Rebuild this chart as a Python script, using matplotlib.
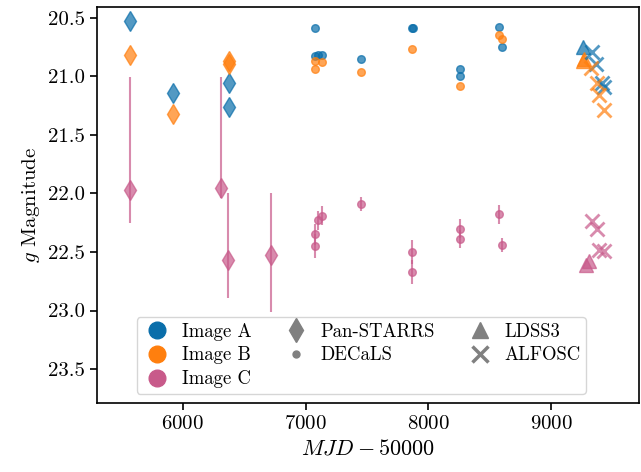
import matplotlib
matplotlib.use("Agg")
import matplotlib.pyplot as plt
from matplotlib.lines import Line2D
import numpy as np

plt.rcParams['font.family'] = 'serif'
plt.rcParams['font.serif'] = ['cmr10', 'DejaVu Serif']
plt.rcParams['mathtext.fontset'] = 'cm'
plt.rcParams['axes.formatter.use_mathtext'] = True

COL_A = '#0a6eaa'
COL_B = '#ff7f0e'
COL_C = '#c85a8a'

# Pan-STARRS
ps_mjd_A = [5569, 5919, 6374, 6374]
ps_mag_A = [20.53, 21.14, 21.06, 21.26]
ps_mjd_B = [5569, 5919, 6374, 6380]
ps_mag_B = [20.82, 21.32, 20.87, 20.90]
ps_mjd_C = [5569, 6309, 6366, 6715]
ps_mag_C = [21.97, 21.95, 22.57, 22.53]
ps_errlo_C = [0.96, 0.94, 0.57, 0.53]   # upward (brighter)
ps_errhi_C = [0.28, 0.09, 0.32, 0.48]   # downward (fainter)

# DECaLS
de_mjd_A = [7073, 7073, 7098, 7130, 7447, 7865, 7875, 8260, 8260, 8577, 8602]
de_mag_A = [20.59, 20.83, 20.82, 20.82, 20.85, 20.59, 20.59, 20.94, 21.00, 20.58, 20.75]
de_mjd_B = [7073, 7130, 7073, 7447, 7870, 8260, 8577, 8602]
de_mag_B = [20.87, 20.88, 20.94, 20.96, 20.77, 21.08, 20.65, 20.68]
de_mjd_C = [7130, 7105, 7080, 7073, 7447, 7870, 7870, 8260, 8260, 8577, 8600]
de_mag_C = [22.19, 22.23, 22.35, 22.45, 22.09, 22.50, 22.67, 22.30, 22.39, 22.18, 22.44]
de_err_C = [0.08, 0.08, 0.09, 0.10, 0.06, 0.10, 0.10, 0.08, 0.08, 0.08, 0.06]

# LDSS3
ld_mjd_A = [9255]
ld_mag_A = [20.75]
ld_mjd_B = [9255, 9265]
ld_mag_B = [20.87, 20.85]
ld_mjd_C = [9285, 9305]
ld_mag_C = [22.61, 22.58]

# ALFOSC
al_mjd_A = [9333, 9366, 9415, 9431]
al_mag_A = [20.79, 20.90, 21.06, 21.09]
al_mjd_B = [9325, 9374, 9390, 9431]
al_mag_B = [20.93, 21.06, 21.16, 21.29]
al_mjd_C = [9333, 9374, 9390, 9431]
al_mag_C = [22.24, 22.30, 22.48, 22.49]

fig = plt.figure(figsize=(6.41, 4.72), dpi=100)
ax = fig.add_axes([0.151, 0.146, 0.846, 0.839])

alpha = 0.7
# Pan-STARRS
ax.plot(ps_mjd_A, ps_mag_A, 'd', color=COL_A, ms=10, alpha=alpha, mec=COL_A)
ax.plot(ps_mjd_B, ps_mag_B, 'd', color=COL_B, ms=10, alpha=alpha, mec=COL_B)
ax.errorbar(ps_mjd_C, ps_mag_C, yerr=[ps_errlo_C, ps_errhi_C], fmt='d',
            color=COL_C, ms=10, alpha=alpha, elinewidth=1.5, capsize=0)
# DECaLS
ax.plot(de_mjd_A, de_mag_A, 'o', color=COL_A, ms=5.5, alpha=alpha)
ax.plot(de_mjd_B, de_mag_B, 'o', color=COL_B, ms=5.5, alpha=alpha)
ax.errorbar(de_mjd_C, de_mag_C, yerr=de_err_C, fmt='o', color=COL_C, ms=5.5,
            alpha=alpha, elinewidth=1.5, capsize=0)
# LDSS3
ax.plot(ld_mjd_A, ld_mag_A, '^', color=COL_A, ms=10, alpha=alpha)
ax.plot(ld_mjd_B, ld_mag_B, '^', color=COL_B, ms=10, alpha=alpha)
ax.plot(ld_mjd_C, ld_mag_C, '^', color=COL_C, ms=10, alpha=alpha)
# ALFOSC
ax.plot(al_mjd_A, al_mag_A, 'x', color=COL_A, ms=10, mew=2, alpha=alpha)
ax.plot(al_mjd_B, al_mag_B, 'x', color=COL_B, ms=10, mew=2, alpha=alpha)
ax.plot(al_mjd_C, al_mag_C, 'x', color=COL_C, ms=10, mew=2, alpha=alpha)

ax.set_xlim(5300, 9715)
ax.set_ylim(23.79, 20.41)
ax.set_xticks([6000, 7000, 8000, 9000])
ax.set_yticks([20.5, 21.0, 21.5, 22.0, 22.5, 23.0, 23.5])
ax.set_yticklabels(['20.5', '21.0', '21.5', '22.0', '22.5', '23.0', '23.5'])
ax.tick_params(labelsize=15, length=5, width=1.2)
for s in ax.spines.values():
    s.set_linewidth(1.2)
ax.set_xlabel(r'$MJD - 50000$', fontsize=16)
ax.set_ylabel(r'$g$ Magnitude', fontsize=15)

gray = '#808080'
handles = [
    Line2D([], [], ls='none', marker='o', color=COL_A, ms=12),
    Line2D([], [], ls='none', marker='o', color=COL_B, ms=12),
    Line2D([], [], ls='none', marker='o', color=COL_C, ms=12),
    Line2D([], [], ls='none', marker='d', color=gray, ms=12),
    Line2D([], [], ls='none', marker='o', color=gray, ms=5),
    Line2D([], [], ls='none', color='none'),
    Line2D([], [], ls='none', marker='^', color=gray, ms=11),
    Line2D([], [], ls='none', marker='x', color=gray, ms=11, mew=2.5),
    Line2D([], [], ls='none', color='none'),
]
labels = ['Image A', 'Image B', 'Image C', 'Pan-STARRS', 'DECaLS', '',
          'LDSS3', 'ALFOSC', '']
ax.legend(handles, labels, ncol=3, loc='lower center', fontsize=13.5,
          bbox_to_anchor=(0.488, 0.0), borderaxespad=0.5, handlelength=1.6,
          handletextpad=0.5, columnspacing=1.6,
          labelspacing=0.3, borderpad=0.3, framealpha=0.8, edgecolor='#cccccc')

fig.savefig('out.png', dpi=100)
